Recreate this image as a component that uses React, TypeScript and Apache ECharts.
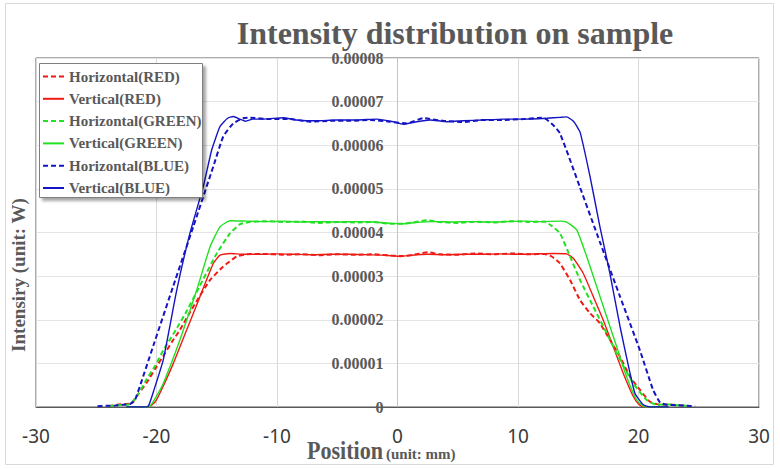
import React, { useEffect, useRef } from "react";
import * as echarts from "echarts";

// Tick labels of the axes
const xTicks = [-30, -20, -10, 0, 10, 20, 30];
const yTicks = [0, 1e-5, 2e-5, 3e-5, 4e-5, 5e-5, 6e-5, 7e-5, 8e-5];

const seriesNames = [
  "Horizontal(RED)",
  "Vertical(RED)",
  "Horizontal(GREEN)",
  "Vertical(GREEN)",
  "Horizontal(BLUE)",
  "Vertical(BLUE)",
];

// [position (mm), intensity (W)]
const horizontalRed: [number, number][] = [
  [-24.0, 0.02e-5], [-23.3, 0.05e-5], [-22.6, 0.07e-5], [-22.06, 0.08e-5], [-21.5, 0.3e-5],
  [-20.81, 0.56e-5], [-20.1, 0.88e-5], [-19.44, 1.17e-5], [-18.7, 1.5e-5], [-18.05, 1.77e-5],
  [-16.95, 2.3e-5], [-15.56, 2.91e-5], [-14.46, 3.22e-5], [-13.34, 3.45e-5], [-12.5, 3.5e-5],
  [-11, 3.51e-5], [-9.5, 3.49e-5], [-8, 3.5e-5], [-6.5, 3.48e-5], [-5, 3.5e-5], [-3.5, 3.49e-5],
  [-2, 3.5e-5], [-0.5, 3.47e-5], [0.5, 3.46e-5], [1.5, 3.5e-5], [2.5, 3.55e-5], [3.5, 3.5e-5],
  [5, 3.49e-5], [6.5, 3.52e-5], [8, 3.5e-5], [9.5, 3.52e-5], [11, 3.5e-5], [12.2, 3.51e-5],
  [12.8, 3.45e-5], [13.49, 3.29e-5], [14.32, 2.91e-5], [15.15, 2.45e-5], [15.98, 2.15e-5],
  [16.8, 1.92e-5], [17.63, 1.54e-5], [18.47, 1.15e-5], [19.3, 0.69e-5], [20.13, 0.39e-5],
  [20.95, 0.12e-5], [21.78, 0.05e-5], [22.6, 0.06e-5], [23.4, 0.04e-5], [24.0, 0.03e-5],
];

const verticalRed: [number, number][] = [
  [-22.5, 0], [-21.2, 0], [-20.54, 0.02e-5], [-20.1, 0.12e-5], [-19.71, 0.32e-5], [-18.6, 1.0e-5],
  [-17.49, 1.77e-5], [-16.39, 2.53e-5], [-15.29, 3.29e-5], [-14.73, 3.48e-5], [-13.9, 3.52e-5],
  [-12.8, 3.5e-5], [-11.5, 3.5e-5], [-10, 3.51e-5], [-8.5, 3.5e-5], [-7, 3.49e-5], [-5.5, 3.5e-5],
  [-4, 3.5e-5], [-2.5, 3.49e-5], [-1, 3.48e-5], [0.3, 3.45e-5], [1.2, 3.48e-5], [2.5, 3.5e-5],
  [4, 3.49e-5], [5.5, 3.5e-5], [7, 3.5e-5], [8.5, 3.51e-5], [10, 3.5e-5], [11.5, 3.51e-5],
  [13, 3.52e-5], [14.04, 3.51e-5], [14.59, 3.41e-5], [15.42, 3.06e-5], [16.25, 2.53e-5],
  [17.08, 1.99e-5], [17.91, 1.38e-5], [18.74, 0.77e-5], [19.57, 0.24e-5], [20.0, 0.07e-5],
  [20.4, 0.01e-5], [21, 0], [22.5, 0],
];

const horizontalGreen: [number, number][] = [
  [-24.0, 0.02e-5], [-23.3, 0.04e-5], [-22.7, 0.05e-5], [-22.2, 0.06e-5], [-21.5, 0.3e-5],
  [-20.81, 0.64e-5], [-20.1, 0.95e-5], [-19.44, 1.3e-5], [-18.5, 1.72e-5], [-17.49, 2.2e-5],
  [-16.12, 2.93e-5], [-15.0, 3.52e-5], [-13.9, 3.98e-5], [-13.07, 4.19e-5], [-12.24, 4.24e-5],
  [-11, 4.26e-5], [-9.5, 4.24e-5], [-8, 4.25e-5], [-6.5, 4.22e-5], [-5, 4.24e-5], [-3.5, 4.23e-5],
  [-2, 4.24e-5], [-0.5, 4.2e-5], [0.5, 4.2e-5], [1.5, 4.24e-5], [2.5, 4.28e-5], [3.5, 4.24e-5],
  [5, 4.22e-5], [6.5, 4.25e-5], [8, 4.23e-5], [9.5, 4.26e-5], [11, 4.24e-5], [12.2, 4.25e-5],
  [12.8, 4.15e-5], [13.49, 3.98e-5], [14.32, 3.45e-5], [15.15, 2.91e-5], [16.25, 2.3e-5],
  [17.36, 1.69e-5], [18.47, 1.08e-5], [19.57, 0.54e-5], [20.68, 0.16e-5], [21.51, 0.05e-5],
  [22.5, 0.06e-5], [23.3, 0.04e-5], [24.0, 0.03e-5],
];

const verticalGreen: [number, number][] = [
  [-22.5, 0], [-21.2, 0], [-20.54, 0.02e-5], [-20.0, 0.25e-5], [-19.44, 0.54e-5], [-18.05, 1.54e-5],
  [-16.66, 2.68e-5], [-15.56, 3.67e-5], [-14.73, 4.13e-5], [-13.9, 4.27e-5], [-12.5, 4.26e-5],
  [-11, 4.25e-5], [-9.5, 4.26e-5], [-8, 4.24e-5], [-6.5, 4.25e-5], [-5, 4.24e-5], [-3.5, 4.25e-5],
  [-2, 4.24e-5], [-0.5, 4.21e-5], [0.5, 4.2e-5], [1.5, 4.23e-5], [3, 4.25e-5], [4.5, 4.24e-5],
  [6, 4.25e-5], [7.5, 4.24e-5], [9, 4.25e-5], [10.5, 4.26e-5], [12, 4.25e-5], [13.5, 4.26e-5],
  [14.04, 4.24e-5], [14.87, 4.06e-5], [15.7, 3.45e-5], [16.53, 2.76e-5], [17.36, 2.07e-5],
  [18.19, 1.38e-5], [19.02, 0.69e-5], [19.85, 0.16e-5], [20.4, 0.02e-5], [21, 0], [22.5, 0],
];

const horizontalBlue: [number, number][] = [
  [-24.9, 0.02e-5], [-24.2, 0.03e-5], [-23.5, 0.03e-5], [-22.8, 0.05e-5], [-22.2, 0.07e-5],
  [-21.78, 0.16e-5], [-20.26, 1.41e-5], [-18.6, 2.78e-5], [-16.94, 4.14e-5], [-15.29, 5.51e-5],
  [-14.46, 6.2e-5], [-13.63, 6.5e-5], [-12.8, 6.62e-5], [-12.24, 6.63e-5], [-10.58, 6.6e-5],
  [-8.92, 6.6e-5], [-7.26, 6.54e-5], [-5.6, 6.56e-5], [-3.94, 6.56e-5], [-2.28, 6.58e-5],
  [-0.62, 6.54e-5], [0.76, 6.5e-5], [2.14, 6.62e-5], [3.8, 6.56e-5], [5.46, 6.53e-5],
  [7.12, 6.58e-5], [8.78, 6.58e-5], [10.44, 6.6e-5], [12.1, 6.63e-5], [12.93, 6.46e-5],
  [13.49, 6.27e-5], [15.15, 5.03e-5], [16.8, 3.78e-5], [18.47, 2.53e-5], [20.13, 1.29e-5],
  [21.2, 0.4e-5], [21.8, 0.1e-5], [22.34, 0.05e-5], [23.2, 0.04e-5], [24.0, 0.03e-5], [24.7, 0.02e-5],
];

const verticalBlue: [number, number][] = [
  [-22.5, 0], [-21.2, 0], [-20.68, 0.02e-5], [-20.2, 0.4e-5], [-19.44, 1.08e-5], [-18.32, 2.68e-5],
  [-17.22, 3.99e-5], [-16.12, 5.05e-5], [-15.42, 5.89e-5], [-14.73, 6.43e-5], [-14.1, 6.62e-5],
  [-13.63, 6.66e-5], [-13.1, 6.6e-5], [-12.6, 6.55e-5], [-12.0, 6.6e-5], [-11.1, 6.6e-5],
  [-9.48, 6.63e-5], [-8.4, 6.58e-5], [-6.7, 6.56e-5], [-5.05, 6.58e-5], [-3.4, 6.58e-5],
  [-1.7, 6.6e-5], [-0.35, 6.54e-5], [0.48, 6.48e-5], [1.6, 6.54e-5], [2.7, 6.58e-5],
  [4.1, 6.54e-5], [5.46, 6.56e-5], [7.1, 6.58e-5], [8.8, 6.6e-5], [10.4, 6.6e-5], [12.4, 6.62e-5],
  [13.5, 6.64e-5], [14.04, 6.65e-5], [14.6, 6.55e-5], [15.15, 6.3e-5], [15.98, 5.28e-5],
  [16.8, 4.13e-5], [17.63, 3.06e-5], [18.47, 1.84e-5], [19.3, 0.77e-5], [19.71, 0.31e-5],
  [20.4, 0.05e-5], [20.95, 0], [22.5, 0],
];

const seriesData = [horizontalRed, verticalRed, horizontalGreen, verticalGreen, horizontalBlue, verticalBlue];
const seriesColors = ["#f01a14", "#f01a14", "#22e022", "#22e022", "#1414c4", "#1414c4"];
const seriesDashed = [true, false, true, false, true, false];

const SERIF = '"Liberation Serif", "Times New Roman", serif';
const GRAY = "#595959";

const GRID_LEFT = 36;
const GRID_RIGHT_EDGE = 759;

export default function App() {
  const ref = useRef<HTMLDivElement>(null);

  useEffect(() => {
    if (!ref.current) return;
    const chart = echarts.init(ref.current, null, { renderer: "svg" });

    const series = seriesNames.map((name, i) => ({
      name,
      type: "line",
      data: seriesData[i],
      symbol: "none",
      smooth: 0.15,
      z: 2,
      lineStyle: {
        color: seriesColors[i],
        width: seriesDashed[i] ? 2 : 1.4,
        type: seriesDashed[i] ? [5, 3] : "solid",
      },
      itemStyle: { color: seriesColors[i] },
    }));

    // y axis sits on x = 0 (middle of the x range)
    const yAxisOffset = -((GRID_RIGHT_EDGE - GRID_LEFT) / 2);

    chart.setOption({
      animation: false,
      backgroundColor: "#ffffff",
      grid: {
        left: GRID_LEFT,
        right: 780 - GRID_RIGHT_EDGE,
        top: 58,
        bottom: 62,
        show: true,
        containLabel: false,
        outerBoundsMode: "none",
        borderColor: GRAY,
        borderWidth: 1,
        backgroundColor: "transparent",
      },
      xAxis: {
        type: "value",
        min: xTicks[0],
        max: xTicks[xTicks.length - 1],
        interval: 10,
        axisLine: { onZero: false, lineStyle: { color: GRAY } },
        axisTick: { show: false },
        axisLabel: {
          fontFamily: '"Noto Sans", sans-serif',
          fontSize: 19,
          color: "#3a3a3a",
          margin: 19,
        },
        splitLine: { lineStyle: { color: "#d9d9d9", width: 1 } },
      },
      yAxis: {
        type: "value",
        position: "left",
        offset: yAxisOffset,
        min: yTicks[0],
        max: yTicks[yTicks.length - 1],
        interval: 1e-5,
        axisLine: { show: true, onZero: false, lineStyle: { color: "#c4c4c4" } },
        axisTick: { show: false },
        axisLabel: {
          formatter: (v: number) => (Math.abs(v) < 1e-12 ? "0" : v.toFixed(5)),
          fontFamily: SERIF,
          fontWeight: "bold",
          fontSize: 16,
          color: GRAY,
          margin: 14,
          padding: [5, 0, 0, 0],
        },
        splitLine: { lineStyle: { color: "#e4e4e4", width: 1 } },
      },
      legend: {
        orient: "vertical",
        left: 42,
        top: 69,
        padding: 0,
        itemWidth: 21,
        itemHeight: 15,
        itemGap: 7.3,
        z: 10,
        data: seriesNames,
        itemStyle: { opacity: 0 },
        textStyle: {
          fontFamily: SERIF,
          fontWeight: "bold",
          fontSize: 15,
          lineHeight: 15,
          color: GRAY,
        },
      },
      graphic: [
        {
          type: "rect",
          silent: true,
          z: 0,
          shape: { x: 5.5, y: 3.5, width: 768, height: 461 },
          style: { fill: "none", stroke: "#d9d9d9", lineWidth: 1 },
        },
        {
          type: "rect",
          silent: true,
          z: 3,
          shape: { x: 39.5, y: 63.5, width: 163, height: 134 },
          style: {
            fill: "#ffffff",
            stroke: "#7f7f7f",
            lineWidth: 1,
            shadowBlur: 3,
            shadowOffsetX: 3,
            shadowOffsetY: 3,
            shadowColor: "rgba(0,0,0,0.35)",
          },
        },
        {
          type: "text",
          silent: true,
          x: 455,
          y: 33,
          style: {
            text: "Intensity distribution on sample",
            fontFamily: SERIF,
            fontWeight: "bold",
            fontSize: 32,
            fill: GRAY,
            align: "center",
            verticalAlign: "middle",
          },
        },
        {
          type: "text",
          silent: true,
          x: 18,
          y: 275,
          rotation: Math.PI / 2,
          style: {
            text: "Intensiry (unit: W)",
            fontFamily: SERIF,
            fontWeight: "bold",
            fontSize: 19,
            fill: GRAY,
            align: "center",
            verticalAlign: "middle",
          },
        },
        {
          type: "text",
          silent: true,
          x: 383,
          y: 450,
          scaleX: 0.85,
          style: {
            text: "Position",
            fontFamily: SERIF,
            fontWeight: "bold",
            fontSize: 26,
            fill: GRAY,
            align: "right",
            verticalAlign: "middle",
          },
        },
        {
          type: "text",
          silent: true,
          x: 386,
          y: 454,
          style: {
            text: "(unit: mm)",
            fontFamily: SERIF,
            fontWeight: "bold",
            fontSize: 15,
            fill: GRAY,
            align: "left",
            verticalAlign: "middle",
          },
        },
      ],
      series,
    });

    return () => chart.dispose();
  }, []);

  return (
    <div
      ref={ref}
      style={{ position: "absolute", left: 0, top: 0, width: 780, height: 469 }}
    />
  );
}
